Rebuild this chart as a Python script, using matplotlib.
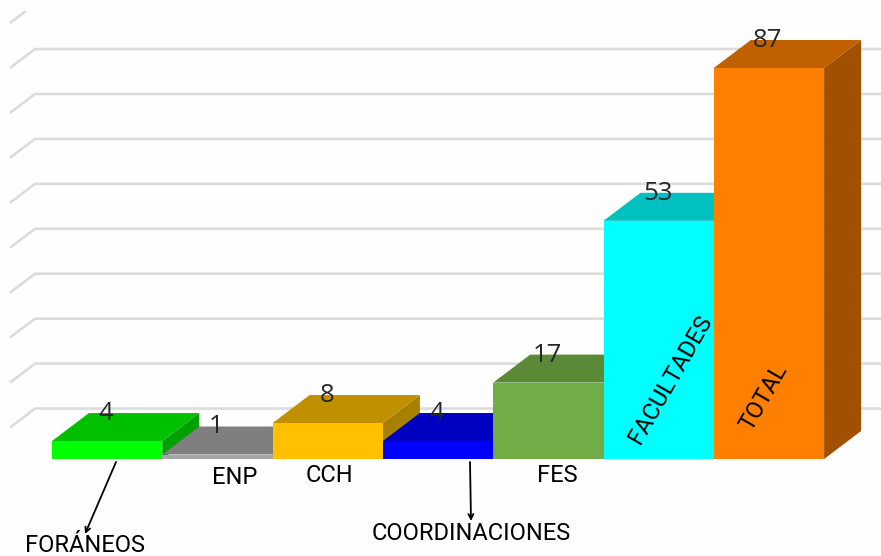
import matplotlib
matplotlib.use("Agg")
import matplotlib.pyplot as plt
from matplotlib.patches import Polygon

W, H = 881, 556

valores = [4, 1, 8, 4, 17, 53, 87]
frente = ["#00FF00", "#A6A6A6", "#FFC000", "#0000FF", "#70AD47", "#00FFFF", "#FF8000"]
arriba = ["#00C000", "#7F7F7F", "#C09000", "#0000C0", "#5A8A38", "#00C0C0", "#C06000"]
lado = ["#00A000", "#6A6A6A", "#A88000", "#0000A0", "#4B7330", "#00A0A0", "#A05000"]
rejilla = [5, 15, 25, 35, 45, 55, 65, 75, 85, 95]

# nombres sueltos: (texto, x px, y px, rotacion)
etiquetas = [
    ("ENP", 235, 478, 0),
    ("CCH", 329, 475, 0),
    ("FES", 557, 476, 0),
    ("FORÁNEOS", 85, 546, 0),
    ("COORDINACIONES", 471, 533, 0),
    ("FACULTADES", 670, 379, 60),
    ("TOTAL", 764, 397, 60),
]
flechas = [((116, 462), (85, 534)), ((470, 462), (471, 521))]

# escala en pixeles de la imagen original
ancho_px = 110.3
alto_px = 4.494
x0_px = 52
y0_px = 459
dx = 37 / ancho_px
dy = 28 / alto_px
ancho = 1.0

fig = plt.figure(figsize=(W / 100, H / 100), dpi=100, facecolor="#FEFEFE")
ax = fig.add_axes([0, 0, 1, 1])
ax.set_xlim(-x0_px / ancho_px, (W - x0_px) / ancho_px)
ax.set_ylim((y0_px - H) / alto_px, y0_px / alto_px)
ax.axis("off")


def fig_px(x, y):
    return (x / W, 1 - y / H)


# lineas de la rejilla con su diagonal a la izquierda
borde = (11 - x0_px) / ancho_px
fin = (W - x0_px) / ancho_px
for g in rejilla:
    y_pared = g + dy * 0.35
    if g < 90:
        xs = [borde, borde + dx * 0.65, fin]
        ys = [y_pared, g + dy, g + dy]
    else:
        # la de arriba queda cortada
        xs = [borde, borde + dx * 0.37]
        ys = [y_pared, y_pared + dy * 0.37]
    ax.plot(xs, ys, color="#DCDCDC", lw=1.9, solid_joinstyle="round", zorder=1)

# barras de izquierda a derecha
for i, v in enumerate(valores):
    x1 = i
    x2 = i + ancho
    z = 2 + i
    ax.add_patch(Polygon([(x2, 0), (x2 + dx, dy), (x2 + dx, v + dy), (x2, v)],
                         facecolor=lado[i], edgecolor="none", zorder=z))
    ax.add_patch(Polygon([(x1, v), (x2, v), (x2 + dx, v + dy), (x1 + dx, v + dy)],
                         facecolor=arriba[i], edgecolor="none", zorder=z))
    ax.bar(x1, v, width=ancho, align="edge", color=frente[i], zorder=z + 0.5)

for i, v in enumerate(valores):
    ax.text(i + 0.49, v + dy - 0.1, str(v), ha="center", va="center",
            fontsize=18.5, color="#262626", family="Open Sans", zorder=20)

for texto, x, y, rot in etiquetas:
    fx, fy = fig_px(x, y)
    fig.text(fx, fy, texto, ha="center", va="center", rotation=rot,
             rotation_mode="anchor", fontsize=17, color="black",
             family="Roboto", zorder=21)

for ini, fin_f in flechas:
    ax.annotate("", xy=fig_px(*fin_f), xytext=fig_px(*ini),
                xycoords="figure fraction", textcoords="figure fraction",
                arrowprops=dict(arrowstyle="->", color="black", lw=1.3,
                                shrinkA=0, shrinkB=0, mutation_scale=9),
                zorder=22)

fig.savefig("out.png", dpi=100, facecolor=fig.get_facecolor())
